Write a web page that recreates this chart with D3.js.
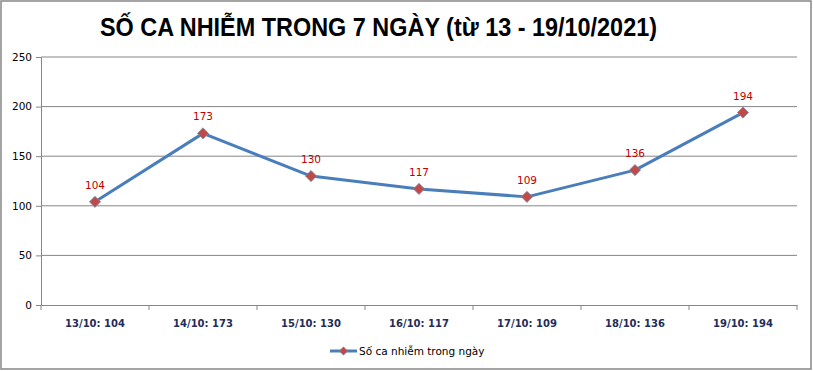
<!DOCTYPE html>
<html>
<head>
<meta charset="utf-8">
<script src="https://cdn.jsdelivr.net/npm/d3@7"></script>
<style>
  body { margin: 0; background: #fff; }
  svg { display: block; }
</style>
</head>
<body>
<div id="chart"></div>
<script>
// data
const days = ['13/10', '14/10', '15/10', '16/10', '17/10', '18/10', '19/10'];
const cases = [104, 173, 130, 117, 109, 136, 194];
const yTicks = [0, 50, 100, 150, 200, 250];
const seriesName = 'Số ca nhiễm trong ngày';
const title = 'SỐ CA NHIỄM TRONG 7 NGÀY (từ 13 - 19/10/2021)';

const width = 813, height = 371;
const margin = {top: 57, right: 16, bottom: 66, left: 41};

const svg = d3.select('#chart').append('svg')
  .attr('width', width)
  .attr('height', height);

// chart border
svg.append('rect')
  .attr('x', 1).attr('y', 1)
  .attr('width', width - 3).attr('height', height - 3)
  .attr('fill', '#fff')
  .attr('stroke', '#868686')
  .attr('stroke-width', 1.5);

// title is a condensed face in the original, squeeze it to the same width
svg.append('text')
  .attr('x', 100).attr('y', 36)
  .attr('textLength', 557)
  .attr('lengthAdjust', 'spacingAndGlyphs')
  .style('font-family', '"Liberation Sans", sans-serif')
  .style('font-weight', 'bold')
  .style('font-size', '26px')
  .attr('fill', '#000')
  .text(title);

const x = d3.scaleBand()
  .domain(days)
  .range([margin.left, width - margin.right]);

const y = d3.scaleLinear()
  .domain([0, 250])
  .range([height - margin.bottom, margin.top]);

// gridlines
svg.append('g')
  .selectAll('line')
  .data(yTicks.slice(1))
  .join('line')
  .attr('x1', margin.left).attr('x2', width - margin.right)
  .attr('y1', d => y(d)).attr('y2', d => y(d))
  .attr('stroke', '#868686')
  .attr('stroke-width', 1);

// y axis
const yAxis = svg.append('g')
  .attr('transform', `translate(${margin.left},0)`)
  .call(d3.axisLeft(y).tickValues(yTicks).tickSize(5).tickPadding(4));
yAxis.select('.domain').attr('stroke', '#868686');
yAxis.selectAll('.tick line').attr('stroke', '#868686');
yAxis.selectAll('text')
  .style('font-family', '"DejaVu Sans", Tahoma, sans-serif')
  .style('font-size', '10.5px')
  .attr('fill', '#000');

// x axis
const xAxis = svg.append('g')
  .attr('transform', `translate(0,${y(0)})`)
  .call(d3.axisBottom(x).tickSize(0).tickFormat(''));
xAxis.select('.domain').attr('stroke', '#868686');
xAxis.selectAll('.tick').remove();

// category boundary ticks
const edges = days.map(d => x(d)).concat([x(days[days.length - 1]) + x.bandwidth()]);
xAxis.selectAll('line.edge')
  .data(edges)
  .join('line')
  .attr('class', 'edge')
  .attr('x1', d => d).attr('x2', d => d)
  .attr('y1', 0).attr('y2', 5)
  .attr('stroke', '#868686');

xAxis.selectAll('text.lbl')
  .data(days)
  .join('text')
  .attr('class', 'lbl')
  .attr('x', d => x(d) + x.bandwidth() / 2)
  .attr('y', 22)
  .attr('text-anchor', 'middle')
  .style('font-family', '"DejaVu Sans", Tahoma, sans-serif')
  .style('font-weight', 'bold')
  .style('font-size', '10px')
  .attr('fill', '#1f2d5a')
  .text((d, i) => `${d}: ${cases[i]}`);

const cx = (d, i) => x(days[i]) + x.bandwidth() / 2;

// series line
svg.append('path')
  .datum(cases)
  .attr('fill', 'none')
  .attr('stroke', '#4a7ebb')
  .attr('stroke-width', 3)
  .attr('stroke-linejoin', 'round')
  .attr('d', d3.line().x(cx).y(d => y(d)));

const diamond = d3.symbol().type(d3.symbolDiamond2).size(80);

svg.append('g')
  .selectAll('path')
  .data(cases)
  .join('path')
  .attr('transform', (d, i) => `translate(${cx(d, i)},${y(d)})`)
  .attr('d', diamond)
  .attr('fill', '#be4b48')
  .attr('stroke', '#7a8fb0')
  .attr('stroke-width', 0.8);

svg.append('g')
  .selectAll('text')
  .data(cases)
  .join('text')
  .attr('x', cx)
  .attr('y', d => y(d) - 13)
  .attr('text-anchor', 'middle')
  .style('font-family', '"DejaVu Sans", Tahoma, sans-serif')
  .style('font-size', '10.5px')
  .attr('fill', '#c00000')
  .text(d => d);

// legend
const lg = svg.append('g').attr('transform', 'translate(330,351)');
lg.append('line')
  .attr('x1', 0).attr('x2', 27)
  .attr('stroke', '#4a7ebb').attr('stroke-width', 3);
lg.append('path')
  .attr('transform', 'translate(13.5,0)')
  .attr('d', d3.symbol().type(d3.symbolDiamond2).size(45))
  .attr('fill', '#be4b48')
  .attr('stroke', '#7a8fb0')
  .attr('stroke-width', 0.6);
lg.append('text')
  .attr('x', 29).attr('y', 4)
  .style('font-family', '"DejaVu Sans", Tahoma, sans-serif')
  .style('font-size', '10.5px')
  .attr('fill', '#000')
  .text(seriesName);
</script>
</body>
</html>
